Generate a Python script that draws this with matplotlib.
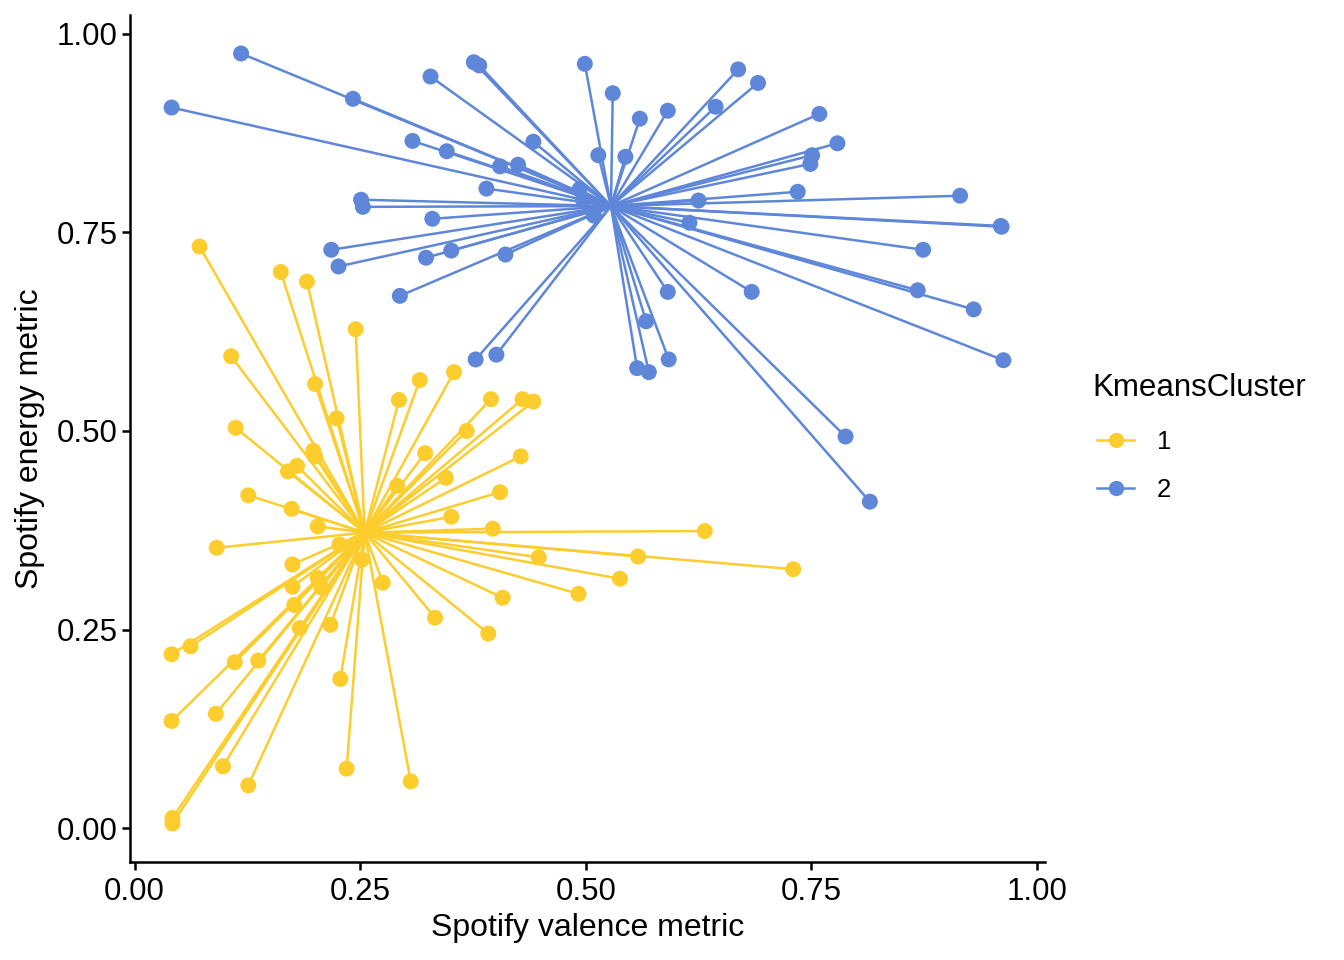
import matplotlib
matplotlib.use("Agg")
import matplotlib.pyplot as plt
from matplotlib.lines import Line2D
import numpy as np

plt.rcParams['font.family'] = ['Liberation Sans', 'DejaVu Sans']

# cluster 1 (yellow) - valence / energy
c1_valence = [0.072, 0.162, 0.191, 0.245, 0.107, 0.200, 0.316, 0.354, 0.293, 0.395,
              0.430, 0.442, 0.112, 0.224, 0.368, 0.198, 0.200, 0.322, 0.170, 0.180,
              0.428, 0.345, 0.291, 0.405, 0.126, 0.174, 0.203, 0.351, 0.397, 0.091,
              0.632, 0.448, 0.558, 0.730, 0.538, 0.408, 0.492, 0.333, 0.392, 0.175,
              0.227, 0.175, 0.203, 0.207, 0.177, 0.217, 0.183, 0.275, 0.252, 0.062,
              0.041, 0.111, 0.137, 0.041, 0.090, 0.228, 0.098, 0.126, 0.235, 0.306,
              0.042, 0.042]
c1_energy = [0.732, 0.700, 0.688, 0.628, 0.594, 0.559, 0.564, 0.574, 0.539, 0.540,
             0.540, 0.537, 0.504, 0.516, 0.500, 0.475, 0.468, 0.472, 0.449, 0.456,
             0.468, 0.441, 0.431, 0.423, 0.419, 0.402, 0.380, 0.392, 0.377, 0.353,
             0.374, 0.341, 0.342, 0.326, 0.314, 0.290, 0.295, 0.265, 0.245, 0.332,
             0.357, 0.304, 0.315, 0.303, 0.281, 0.256, 0.252, 0.309, 0.338, 0.229,
             0.219, 0.209, 0.211, 0.135, 0.144, 0.188, 0.078, 0.054, 0.075, 0.059,
             0.013, 0.006]
c1_center = (0.255, 0.372)

# cluster 2 (blue)
c2_valence = [0.118, 0.041, 0.242, 0.328, 0.376, 0.382, 0.499, 0.530, 0.669, 0.691,
              0.644, 0.591, 0.560, 0.759, 0.779, 0.751, 0.749, 0.442, 0.308, 0.346,
              0.405, 0.425, 0.514, 0.544, 0.390, 0.251, 0.253, 0.330, 0.218, 0.226,
              0.323, 0.351, 0.411, 0.294, 0.378, 0.401, 0.625, 0.735, 0.915, 0.961,
              0.960, 0.874, 0.615, 0.868, 0.930, 0.963, 0.684, 0.591, 0.567, 0.592,
              0.557, 0.570, 0.788, 0.815, 0.493, 0.497, 0.509]
c2_energy = [0.975, 0.907, 0.918, 0.946, 0.964, 0.960, 0.962, 0.925, 0.955, 0.938,
             0.908, 0.903, 0.893, 0.899, 0.862, 0.847, 0.836, 0.864, 0.865, 0.852,
             0.833, 0.835, 0.847, 0.845, 0.805, 0.791, 0.782, 0.767, 0.728, 0.707,
             0.718, 0.727, 0.722, 0.670, 0.590, 0.596, 0.790, 0.801, 0.796, 0.757,
             0.758, 0.728, 0.762, 0.677, 0.653, 0.589, 0.675, 0.675, 0.638, 0.590,
             0.579, 0.574, 0.493, 0.411, 0.804, 0.791, 0.771]
c2_center = (0.528, 0.783)

clusters = ['1', '2']
colors = ['#FDCD2E', '#5F87D9']

fig = plt.figure(figsize=(13.44, 9.6), dpi=100)
ax = fig.add_axes([130 / 1344, 1 - 862 / 960, (1045 - 130) / 1344, (862 - 15) / 960])

data = [(c1_valence, c1_energy, c1_center), (c2_valence, c2_energy, c2_center)]

# segments to centroid first, points on top
for (vx, vy, cen), col in zip(data, colors):
    for x, y in zip(vx, vy):
        ax.plot([cen[0], x], [cen[1], y], color=col, lw=1.8, solid_capstyle='butt', zorder=2)
for (vx, vy, cen), col in zip(data, colors):
    ax.scatter(vx, vy, s=11.5 ** 2, color=col, edgecolors='none', zorder=3)

# ggplot style 5% expansion
allx = np.array(c1_valence + c2_valence)
ally = np.array(c1_energy + c2_energy)
dx = allx.max() - allx.min()
dy = ally.max() - ally.min()
ax.set_xlim(allx.min() - 0.05 * dx, allx.max() + 0.05 * dx)
ax.set_ylim(ally.min() - 0.05 * dy, ally.max() + 0.05 * dy)

ticks = [0.0, 0.25, 0.5, 0.75, 1.0]
ax.set_xticks(ticks)
ax.set_yticks(ticks)
ax.set_xticklabels(['0.00', '0.25', '0.50', '0.75', '1.00'])
ax.set_yticklabels(['0.00', '0.25', '0.50', '0.75', '1.00'])
ax.tick_params(labelsize=22.5, length=6, width=1.8, color='black')
ax.tick_params(axis='x', pad=5)
ax.tick_params(axis='y', pad=3)

for s in ['top', 'right']:
    ax.spines[s].set_visible(False)
for s in ['left', 'bottom']:
    ax.spines[s].set_linewidth(1.8)

ax.set_xlabel('Spotify valence metric', fontsize=23, labelpad=4)
ax.set_ylabel('Spotify energy metric', fontsize=23, labelpad=8)

handles = [Line2D([0], [0], color=c, lw=1.8, marker='o', markersize=11,
                  markeredgewidth=0) for c in colors]
leg = fig.legend(handles, clusters, title='KmeansCluster', loc='upper left',
                 bbox_to_anchor=(1069 / 1344, 1 - 350 / 960), frameon=False,
                 fontsize=18.5, title_fontsize=22.5, handlelength=1.44,
                 labelspacing=0.92, handletextpad=0.9)
leg._legend_box.align = 'left'
leg._legend_box.sep = 16
leg._legend_handle_box.pad = 3.6

fig.savefig('out.png', dpi=100)
